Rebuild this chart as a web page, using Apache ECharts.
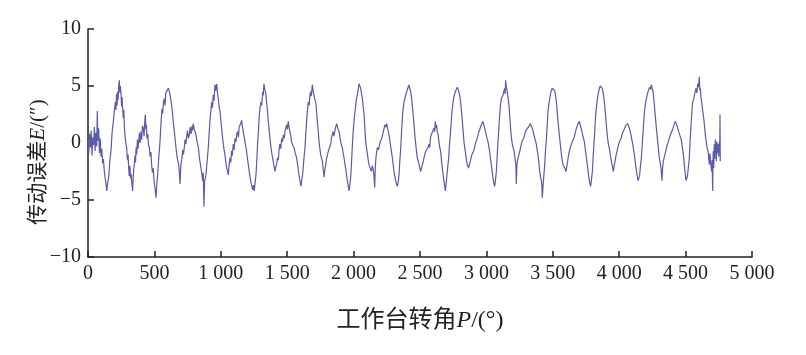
<!DOCTYPE html>
<html>
<head>
<meta charset="utf-8">
<script src="https://cdn.jsdelivr.net/npm/echarts@6/dist/echarts.min.js"></script>
<style>
  html, body { margin: 0; padding: 0; background: #fff; }
  #chart { width: 806px; height: 355px; }
</style>
</head>
<body>
<div id="chart"></div>
<script>
// 工作台转角 P (°) 与 传动误差 E (″)，按段读取
var seg1 = [
  [0,0.2],[6,-0.9],[12,0.8],[18,-0.4],[24,1.1],[30,-1.1],[36,0.5],[42,-0.2],[48,1.4],[54,-0.7],
  [60,0.9],[66,-0.3],[70,2.8],[74,0.2],[80,1.3],[86,-0.9],[92,0.4],[98,-1.2],[104,-0.5],[110,-1.8],
  [116,-1.4],[123,-2.5],[130,-3.2],[136,-3.6],[141,-4.2],[148,-3.5],[156,-3.0],[164,-1.6],[173,-0.7],[182,1.0],
  [191,1.9],[198,2.8],[206,3.6],[210,2.9],[215,4.3],[219,3.3],[223,4.5],[227,3.8],[231,5.0],[236,5.5],
  [240,4.4],[244,5.0],[249,4.2],[253,3.2],[257,4.0],[261,3.0],[266,2.2],[270,2.9],[274,1.3],[280,0.5],
  [286,-0.1],[291,-0.4],[297,-1.5],[302,-1.0],[306,-2.2],[311,-2.9],[316,-2.0],[320,-3.1],[324,-2.7],[330,-3.5],
  [336,-4.2],[340,-3.0],[345,-2.2],[349,-1.9],[354,-1.1],[358,-1.7],[362,-0.4],[367,-1.0],[372,0.3],[377,-0.5],
  [382,0.1],[387,0.9],[392,0.0],[399,1.0],[404,0.3],[410,1.5],[417,1.3],[422,0.6],[428,2.0],[432,2.5],
  [436,1.2],[440,1.6],[444,0.4],[450,0.8],[456,-0.2],[462,-0.4],[468,-1.2],[474,-0.8],[479,-1.9],[485,-2.6],
  [491,-2.2],[497,-3.3],[504,-3.9],[512,-4.8],[518,-3.6],[525,-2.7],[533,-1.3],[542,0.1],[550,1.8],[557,3.0],
  [563,2.6],[568,3.6],[575,3.9],[580,3.3],[586,4.4],[592,4.5],[598,4.3],[605,4.8],[611,4.6],[618,4.2],
  [625,3.7],[633,3.0],[641,2.0],[650,1.0],[659,0.0],[668,-1.0],[675,-1.5],[683,-1.9],[688,-2.6],[693,-3.6],
  [698,-2.2],[703,-1.6],[708,-1.3],[713,-0.6],[719,-1.0],[725,-0.4],[731,0.3],[737,-0.1],[743,0.6],[749,1.1],
  [756,0.4],[763,0.7],[769,1.4],[776,0.8],[783,1.5],[788,1.1],[793,1.7],[799,1.2],[806,1.0],[813,0.7],
  [822,0.1],[831,-0.4],[840,-1.4],[851,-2.2],[858,-2.8],[863,-3.3],[868,-2.6],[873,-5.6],[878,-3.4],[888,-2.8],
  [897,-1.6],[906,-0.4],[912,0.8],[918,1.9],[925,2.8],[931,3.6],[937,3.1],[943,4.2],[949,3.7],[956,5.1],
  [962,4.6],[969,5.2],[975,4.4],[981,3.9],[987,3.2],[994,2.8]
];
var seg2 = [
  [1000,2.0],[1006,1.3],[1012,0.6],[1019,-0.1],[1025,-0.6],[1031,-1.0],[1037,-1.6],[1044,-2.2],[1050,-2.4],[1056,-2.8],
  [1062,-2.0],[1069,-1.3],[1075,-1.7],[1081,-0.7],[1087,-1.1],[1094,-0.1],[1100,-0.6],[1107,0.4],[1114,0.1],[1120,0.8],
  [1127,1.0],[1133,0.5],[1138,1.4],[1144,1.3],[1150,1.7],[1157,2.0],[1163,1.4],[1169,1.0],[1175,0.6],[1182,0.1],
  [1188,-0.3],[1194,-0.7],[1200,-1.3],[1207,-1.9],[1213,-2.4],[1220,-3.0],[1230,-3.6],[1240,-4.1],[1246,-3.7],[1252,-4.2],
  [1258,-3.5],[1265,-2.8],[1271,-1.5],[1277,-0.1],[1284,1.2],[1290,2.5],[1296,3.1],[1302,3.6],[1308,3.3],[1315,4.5],
  [1320,4.2],[1325,5.2],[1331,4.7],[1337,4.5],[1343,3.8],[1350,3.0],[1357,2.0],[1365,1.0],[1371,0.3],[1378,-0.4],
  [1384,-0.9],[1390,-1.3],[1399,-1.9],[1408,-2.5],[1414,-2.1],[1420,-1.9],[1427,-1.3],[1433,-1.5],[1439,-0.6],[1445,-0.1],
  [1452,-0.5],[1458,0.4],[1465,0.1],[1471,0.7],[1478,0.4],[1484,1.1],[1491,1.0],[1497,1.6],[1502,1.2],[1508,1.9],
  [1514,1.4],[1521,1.0],[1527,0.6],[1533,0.1],[1542,-0.2],[1551,-0.4],[1561,-0.9],[1571,-1.3],[1580,-2.0],[1588,-2.8],
  [1596,-3.3],[1604,-3.8],[1610,-3.2],[1616,-2.8],[1625,-1.5],[1634,-0.4],[1640,0.8],[1646,1.9],[1652,2.8],[1659,3.6],
  [1665,3.3],[1671,4.2],[1676,4.5],[1682,4.1],[1689,5.1],[1695,4.6],[1702,4.5],[1708,3.8],[1715,3.6],[1721,2.8],
  [1727,1.9],[1734,1.0],[1740,0.1],[1746,-0.5],[1752,-1.0],[1758,-1.3],[1765,-1.6],[1771,-2.3],[1777,-3.0],[1783,-2.4],
  [1790,-1.9],[1796,-1.4],[1802,-1.3],[1808,-0.8],[1815,-0.7],[1821,-0.3],[1828,-0.1],[1834,0.5],[1840,0.4],[1846,1.0],
  [1852,0.6],[1858,1.0],[1865,1.4],[1873,1.7],[1880,1.3],[1890,1.0],[1897,0.5],[1903,0.1],[1909,-0.2],[1915,-0.4],
  [1921,-0.9],[1928,-1.3],[1934,-1.8],[1940,-2.2],[1947,-2.8],[1953,-3.3],[1960,-3.8],[1966,-4.2],[1972,-3.6],[1978,-3.0],
  [1985,-1.6],[1991,-0.1],[1997,1.0]
];
var seg3 = [
  [2003,1.9],[2010,2.7],[2016,3.3],[2022,3.9],[2028,4.2],[2035,4.7],[2041,5.2],[2047,5.0],[2053,4.8],[2060,4.3],
  [2066,3.9],[2072,3.2],[2079,2.5],[2085,1.2],[2091,0.1],[2098,-0.5],[2104,-1.0],[2110,-1.5],[2116,-1.9],[2125,-2.2],
  [2134,-2.5],[2140,-2.0],[2146,-2.2],[2152,-2.7],[2159,-3.9],[2163,-2.3],[2166,-1.6],[2172,-0.9],[2179,-0.4],[2187,-0.6],
  [2196,-0.1],[2204,0.2],[2212,0.4],[2218,0.7],[2224,1.0],[2230,1.3],[2237,1.6],[2243,1.4],[2249,1.7],[2255,1.3],
  [2262,1.0],[2268,0.6],[2274,0.1],[2283,-0.6],[2292,-1.3],[2298,-1.9],[2304,-2.5],[2310,-2.9],[2317,-3.3],[2323,-3.6],
  [2330,-3.8],[2336,-3.4],[2342,-2.8],[2348,-1.6],[2355,-0.4],[2361,0.9],[2367,2.2],[2373,3.0],[2380,3.6],[2390,4.1],
  [2400,4.5],[2408,4.8],[2417,5.1],[2423,4.8],[2430,4.5],[2436,4.0],[2442,3.3],[2448,2.5],[2455,1.6],[2461,0.7],
  [2468,-0.1],[2474,-0.8],[2480,-1.3],[2487,-1.6],[2493,-1.9],[2499,-2.2],[2505,-2.5],[2515,-2.0],[2525,-1.6],[2534,-1.1],
  [2543,-0.7],[2551,-0.6],[2560,-0.4],[2567,-0.1],[2573,-0.4],[2579,0.5],[2585,0.4],[2591,0.9],[2598,0.8],[2605,1.3],
  [2610,1.0],[2615,1.9],[2620,1.3],[2625,1.6],[2630,1.0],[2636,0.8],[2643,0.1],[2649,-0.4],[2655,-0.7],[2660,-1.3],
  [2665,-1.9],[2672,-2.6],[2680,-3.3],[2686,-3.8],[2691,-4.2],[2696,-3.7],[2701,-3.0],[2708,-2.2],[2716,-1.3],[2722,-0.2],
  [2728,0.7],[2735,1.8],[2741,2.8],[2747,3.4],[2753,3.9],[2760,4.3],[2766,4.5],[2773,4.7],[2781,4.9],[2787,4.8],
  [2793,4.5],[2800,4.1],[2806,3.6],[2812,2.8],[2819,1.9],[2825,1.0],[2831,0.1],[2838,-0.5],[2844,-1.0],[2850,-1.5],
  [2856,-1.9],[2866,-2.2],[2872,-1.9],[2879,-1.6],[2885,-1.3],[2891,-1.0],[2898,-0.9],[2904,-0.7],[2910,-0.4],[2916,-0.1],
  [2924,0.2],[2931,0.4],[2937,0.7],[2944,1.0],[2953,1.3],[2962,1.6],[2968,1.7],[2974,1.9],[2980,1.6],[2987,1.3],
  [2993,1.0],[2999,0.7]
];
var seg4 = [
  [3005,0.4],[3012,0.1],[3018,-0.3],[3024,-0.7],[3030,-1.3],[3037,-1.9],[3043,-2.5],[3049,-3.0],[3055,-3.5],[3062,-3.8],
  [3068,-3.3],[3075,-2.5],[3081,-1.2],[3087,0.1],[3094,1.3],[3100,2.5],[3106,3.3],[3112,3.9],[3118,4.0],[3125,4.2],
  [3131,4.5],[3137,4.8],[3141,4.3],[3145,5.5],[3150,4.9],[3157,4.5],[3163,4.0],[3170,3.3],[3176,2.3],[3182,1.3],
  [3188,0.5],[3195,-0.1],[3201,-0.4],[3208,-0.7],[3213,-1.1],[3218,-1.6],[3222,-2.0],[3225,-3.6],[3229,-2.1],[3233,-1.6],
  [3239,-1.3],[3245,-1.0],[3254,-0.6],[3263,-0.1],[3271,0.2],[3280,0.4],[3287,0.7],[3295,1.0],[3304,1.2],[3313,1.3],
  [3322,1.5],[3331,1.7],[3338,1.5],[3346,1.3],[3352,1.0],[3358,0.7],[3367,0.3],[3376,-0.1],[3382,-0.6],[3388,-1.0],
  [3395,-1.7],[3401,-2.5],[3407,-2.9],[3413,-3.3],[3417,-3.6],[3421,-4.8],[3427,-3.7],[3433,-2.8],[3439,-1.9],[3445,-0.7],
  [3452,0.4],[3458,1.6],[3464,2.8],[3470,3.4],[3477,3.9],[3483,4.3],[3489,4.6],[3496,4.8],[3502,4.9],[3508,4.8],
  [3514,4.6],[3520,4.2],[3527,3.6],[3533,2.8],[3539,1.9],[3546,1.1],[3552,0.4],[3558,-0.3],[3565,-1.0],[3571,-1.5],
  [3577,-1.9],[3583,-2.0],[3590,-2.2],[3600,-2.5],[3606,-2.0],[3612,-1.6],[3618,-1.1],[3625,-0.7],[3632,-0.4],[3640,-0.1],
  [3646,0.1],[3652,0.1],[3658,0.4],[3665,0.7],[3671,1.0],[3678,1.3],[3684,1.5],[3690,1.7],[3700,1.9],[3706,1.6],
  [3713,1.3],[3719,1.0],[3725,0.7],[3731,0.4],[3738,0.1],[3744,-0.5],[3750,-1.0],[3756,-1.6],[3763,-2.2],[3769,-2.8],
  [3775,-3.3],[3780,-3.6],[3785,-3.8],[3791,-3.2],[3798,-2.5],[3804,-1.2],[3811,0.1],[3817,1.3],[3823,2.5],[3830,3.3],
  [3836,3.9],[3843,4.4],[3851,4.8],[3858,5.0],[3866,5.1],[3872,4.8],[3878,4.5],[3884,4.0],[3891,3.3],[3897,2.5],
  [3903,1.6],[3909,0.8],[3916,0.1],[3922,-0.3],[3929,-0.7],[3935,-1.2],[3941,-1.6],[3948,-2.0],[3956,-2.5],[3962,-2.0],
  [3969,-1.6],[3976,-1.1],[3984,-0.7],[3990,-0.4],[3996,-0.1]
];
var seg5 = [
  [4005,0.2],[4014,0.4],[4021,0.7],[4029,1.0],[4038,1.2],[4047,1.5],[4055,1.6],[4064,1.7],[4070,1.5],[4077,1.3],
  [4083,1.0],[4089,0.7],[4095,0.3],[4102,-0.1],[4108,-0.6],[4114,-1.0],[4120,-1.6],[4127,-2.2],[4134,-2.8],[4142,-3.3],
  [4148,-3.1],[4154,-2.8],[4160,-2.0],[4167,-1.3],[4173,-0.2],[4180,1.0],[4186,2.1],[4192,3.0],[4198,3.5],[4205,3.9],
  [4211,4.2],[4217,4.5],[4223,4.7],[4230,4.9],[4236,4.7],[4242,5.1],[4248,4.8],[4255,4.5],[4261,3.8],[4267,3.0],
  [4273,2.2],[4280,1.3],[4290,0.1],[4296,-0.6],[4302,-1.3],[4308,-1.7],[4315,-2.2],[4322,-3.3],[4327,-2.2],[4332,-1.6],
  [4338,-1.3],[4345,-1.0],[4351,-0.7],[4357,-0.4],[4363,-0.1],[4370,0.1],[4377,0.4],[4385,0.7],[4391,0.9],[4397,1.0],
  [4403,1.2],[4410,1.5],[4416,1.7],[4423,1.9],[4429,1.7],[4435,1.6],[4441,1.3],[4448,1.0],[4453,0.8],[4458,0.7],
  [4464,0.4],[4470,0.1],[4476,-0.4],[4483,-1.0],[4489,-1.7],[4495,-2.5],[4499,-2.9],[4503,-3.3],[4509,-3.1],[4515,-2.8],
  [4521,-2.1],[4528,-1.3],[4534,0.2],[4541,1.6],[4547,2.7],[4553,3.6],[4560,3.8],[4566,3.9],[4572,4.5],[4578,4.8],
  [4585,4.4],[4591,5.2],[4597,4.9],[4603,5.8],[4607,4.6],[4611,4.8],[4616,4.0],[4621,3.6],[4627,3.0],[4633,2.5],
  [4640,1.8],[4646,1.0],[4652,0.4],[4658,-0.1],[4663,-0.5],[4669,-0.7],[4674,-1.3],[4679,-1.9],[4683,-0.9],[4686,-1.3],
  [4691,-2.0],[4696,-2.5],[4700,-1.5],[4704,-4.2],[4707,-1.0],[4709,-0.7],[4712,-2.2],[4716,-0.1],[4720,-1.4],[4724,0.3],
  [4729,-0.4],[4732,-1.6],[4736,0.1],[4741,-0.9],[4746,-0.1],[4750,-1.2],[4754,0.1],[4757,-0.6],[4759,2.5],[4761,-1.6]
];

var xMin = 0, xMax = 5000, xStep = 500;
var yMin = -10, yMax = 10, yStep = 5;

var serif = '"Liberation Serif", "Times New Roman", "Noto Sans CJK SC", serif';

// 千位用空格分隔，负号用 −
function fmt(v) {
    var s = String(Math.abs(v)).replace(/\B(?=(\d{3})+(?!\d))/g, ' ');
    return (v < 0 ? '\u2212' : '') + s;
}

var myChart = echarts.init(document.getElementById('chart'));
var option = {
    animation: false,
    backgroundColor: '#fff',
    grid: { left: 88, right: 54, top: 29, bottom: 98 },
    xAxis: {
        type: 'value',
        min: xMin, max: xMax, interval: xStep,
        name: '工作台转角{i|P}/(°)',
        nameLocation: 'middle',
        nameGap: 52,
        nameMoveOverlap: false,
        nameTextStyle: {
            fontFamily: serif, fontSize: 24, color: '#222',
            rich: { i: { fontFamily: serif, fontStyle: 'italic', fontSize: 24, color: '#222' } }
        },
        axisLine: { onZero: false, lineStyle: { color: '#222', width: 1.5 } },
        axisTick: { inside: true, length: 6, lineStyle: { color: '#222', width: 1.5 } },
        axisLabel: { margin: 7, fontFamily: serif, fontSize: 20, color: '#222', formatter: fmt },
        splitLine: { show: false }
    },
    yAxis: {
        type: 'value',
        min: yMin, max: yMax, interval: yStep,
        name: '传动误差{i|E}/(″)',
        nameLocation: 'middle',
        nameGap: 39,
        nameMoveOverlap: false,
        nameTextStyle: {
            fontFamily: serif, fontSize: 21, color: '#222',
            padding: [0, 38, 0, 0],
            rich: { i: { fontFamily: serif, fontStyle: 'italic', fontSize: 21, color: '#222' } }
        },
        axisLine: { show: true, onZero: false, lineStyle: { color: '#222', width: 1.5 } },
        axisTick: { show: true, inside: true, length: 6, lineStyle: { color: '#222', width: 1.5 } },
        axisLabel: { margin: 7, fontFamily: serif, fontSize: 20, color: '#222', formatter: fmt },
        splitLine: { show: false }
    },
    series: [{
        type: 'line',
        data: seg1.concat(seg2, seg3, seg4, seg5),
        showSymbol: false,
        smooth: false,
        lineStyle: { color: '#5b5ba8', width: 1.2 }
    }]
};
myChart.setOption(option);
</script>
</body>
</html>
